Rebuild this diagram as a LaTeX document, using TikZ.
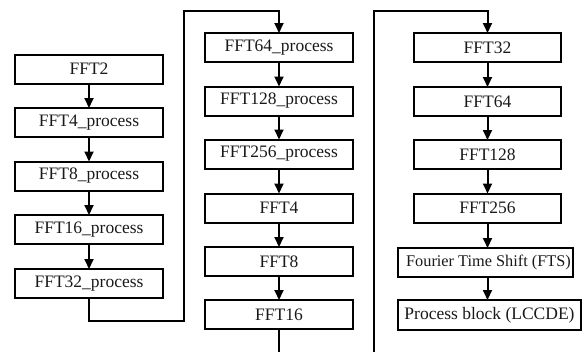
\documentclass[tikz,border=0pt]{standalone}
\usepackage{fontspec}
\setmainfont{Liberation Serif}
\usetikzlibrary{arrows.meta}
\begin{document}
\begin{tikzpicture}[x=1pt,y=-1pt,
  box/.style={draw=black, line width=2pt, rectangle, inner sep=0pt, outer sep=0pt,
    minimum height=29pt, font=\fontsize{17.5}{20}\selectfont, text=black!90},
  arr/.style={line width=2pt, -{Triangle[width=9pt,length=10pt]}},
  ln/.style={line width=2pt}]
\useasboundingbox (0,0) rectangle (583,351);
\clip (0,0) rectangle (583,351);
% column 1
\node[box, minimum width=148pt] (a1) at (89,69) {FFT2};
\node[box, minimum width=148pt] (a2) at (89,122.5) {FFT4\_process};
\node[box, minimum width=148pt] (a3) at (89,176) {FFT8\_process};
\node[box, minimum width=148pt] (a4) at (89,229.5) {FFT16\_process};
\node[box, minimum width=148pt] (a5) at (89,283.5) {FFT32\_process};
% column 2
\node[box, minimum width=148pt] (b1) at (279,47.5) {FFT64\_process};
\node[box, minimum width=148pt] (b2) at (279,101) {FFT128\_process};
\node[box, minimum width=148pt] (b3) at (279,154) {FFT256\_process};
\node[box, minimum width=148pt] (b4) at (279,208) {FFT4};
\node[box, minimum width=148pt] (b5) at (279,261.5) {FFT8};
\node[box, minimum width=148pt] (b6) at (279,314.5) {FFT16};
% column 3
\node[box, minimum width=147pt] (c1) at (487.5,47.5) {FFT32};
\node[box, minimum width=147pt] (c2) at (487.5,101.5) {FFT64};
\node[box, minimum width=147pt] (c3) at (487.5,154.5) {FFT128};
\node[box, minimum width=147pt] (c4) at (487.5,208) {FFT256};
\node[box, minimum width=175pt, font=\fontsize{16.3}{19}\selectfont] (c5) at (485.5,262.5) {\hspace{6pt}Fourier Time Shift (FTS)};
\node[box, minimum width=183pt, minimum height=30pt] (c6) at (489.5,315) {Process block (LCCDE)};
% connectors
\draw[arr] (a1) -- (a2);
\draw[arr] (a2) -- (a3);
\draw[arr] (a3) -- (a4);
\draw[arr] (a4) -- (a5);
\coordinate (k1) at (89,321);
\coordinate (k2) at (184,11);
\draw[arr] (a5.south) -- (k1) -| (k2) -| (b1.north);
\draw[arr] (b1) -- (b2);
\draw[arr] (b2) -- (b3);
\draw[arr] (b3) -- (b4);
\draw[arr] (b4) -- (b5);
\draw[arr] (b5) -- (b6);
\coordinate (k3) at (279,370);
\coordinate (k4) at (374,11);
\draw[arr] (b6.south) -- (k3) -| (k4) -| (c1.north);
\draw[arr] (c1) -- (c2);
\draw[arr] (c2) -- (c3);
\draw[arr] (c3) -- (c4);
\draw[arr] (c4.south) -- (c4.south |- c5.north);
\draw[arr] (c5.south -| c4.south) -- (c4.south |- c6.north);
\end{tikzpicture}
\end{document}
